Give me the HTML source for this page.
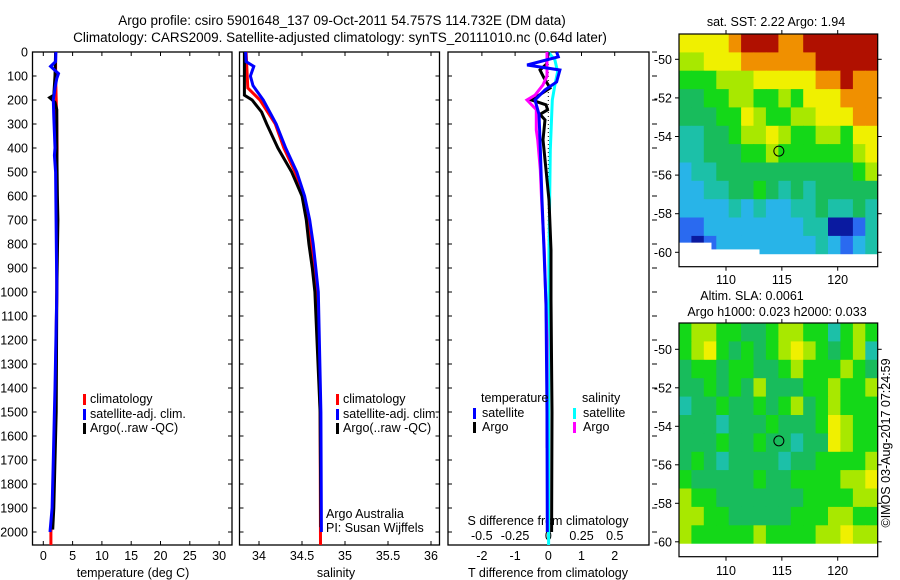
<!DOCTYPE html>
<html><head><meta charset="utf-8">
<style>
body{margin:0;background:#fff;}
svg{display:block;font-family:"Liberation Sans",sans-serif;font-size:12.5px;}
</style></head>
<body>
<svg id="fig" width="900" height="580" viewBox="0 0 900 580" xmlns="http://www.w3.org/2000/svg">
<rect width="900" height="580" fill="#fff"/>
<text x="342" y="25" text-anchor="middle" font-size="13.5">Argo profile: csiro 5901648_137 09-Oct-2011 54.757S 114.732E (DM data)</text>
<text x="340" y="42" text-anchor="middle" font-size="13.5">Climatology: CARS2009. Satellite-adjusted climatology: synTS_20111010.nc (0.64d later)</text>
<g id="g1"></g>
<g id="g2"></g>
<g id="g3"></g>
<g id="m1"></g>
<g id="m2"></g>
<text transform="translate(890,443) rotate(-90)" text-anchor="middle" font-size="12.5">©IMOS 03-Aug-2017 07:24:59</text>
</svg>
<script>
// ---------- data ----------
const depthTicks=[0,100,200,300,400,500,600,700,800,900,1000,1100,1200,1300,1400,1500,1600,1700,1800,1900,2000];
const tempTicks=[0,5,10,15,20,25,30];
const salTicks=[34,34.5,35,35.5,36];
const salTickLabels=["34","34.5","35","35.5","36"];
const dTTicks=[-2,-1,0,1,2];
const dSTicks=[-0.5,-0.25,0,0.25,0.5];
const dSTickLabels=["-0.5","-0.25","0","0.25","0.5"];

const tClimDepth=[0,100,200,300,400,500,1000,1500,1900,2000,2054];
const tClimVal=[2.1,2.1,2.2,2.3,2.35,2.3,2.3,2.0,1.6,1.3,1.3];
const tArgoDepth=[0,100,180,190,210,240,400,600,700,1000,1500,1900,1990];
const tArgoVal=[2.1,2.0,1.8,1.1,2.0,2.3,2.3,2.4,2.5,2.3,2.2,1.8,1.6];
const tSatDepth=[0,40,60,90,110,150,200,270,400,430,500,1000,1400,1500,1700,1900,2000];
const tSatVal=[2.15,2.1,1.25,2.6,2.3,2.0,1.7,1.8,2.0,1.9,2.1,2.3,2.0,1.9,1.7,1.5,1.15];

const sClimDepth=[0,150,200,300,400,500,600,700,1000,1500,2054];
const sClimVal=[33.85,33.87,34.01,34.19,34.29,34.42,34.52,34.57,34.68,34.71,34.715];
const sArgoDepth=[0,180,200,250,300,400,500,600,700,800,900,1000,1500,1980];
const sArgoVal=[33.83,33.83,33.92,34.03,34.09,34.22,34.38,34.5,34.55,34.58,34.62,34.65,34.71,34.72];
const sSatDepth=[0,40,60,100,140,200,300,400,500,600,700,800,900,1000,1500,2000];
const sSatVal=[33.845,33.85,33.94,33.9,33.93,34.05,34.2,34.31,34.44,34.53,34.59,34.63,34.66,34.69,34.72,34.725];

const dTSatDepth=[0,20,54,75,125,158,200,260,366,617,825,1050,1500,2000];
const dTSatVal=[0.25,0.3,-0.64,0.35,0.25,-0.1,-0.4,-0.28,-0.25,-0.19,-0.13,-0.07,-0.04,-0.03];
const dTArgoDepth=[0,50,75,108,150,200,220,241,260,283,366,490,617,825,1033,1500,2000];
const dTArgoVal=[0,-0.05,-0.25,-0.13,0.05,-0.5,-0.07,-0.02,-0.25,-0.1,-0.16,-0.07,0.02,0.08,0.08,0.11,0.1];
const dSArgoDepth=[0,100,137,180,200,240,325,366,490,617,825,1200,1650];
const dSArgoVal=[-0.01,-0.01,-0.04,-0.1,-0.16,-0.09,-0.09,-0.08,-0.06,-0.05,-0.03,-0.01,-0.01];
const dSSatDepth=[0,33,83,137,200,408,825,1500,2054];
const dSSatVal=[0,0.05,0.07,0.05,0.03,0.015,0.005,0.002,0.002];

const mapLonTicks=[110,115,120];
const mapLatTicks=[-50,-52,-54,-56,-58,-60];
const palette=["#0a1aa0","#2a6af0","#28b4e8","#1cc0a8","#18bc5c","#14d818","#a8e800","#f0f000","#f09000","#b01000"];
const sstGrid=[
"7777899988999999","6677788888899999","5556667777788988","4455665565777888",
"4445576556677788","3344566765566577","3344455655555567","2334444444444456",
"2233445434344444","2222323223343343","1122222222330013","1012222222232123"];
const slaGrid=[
"5665544566553565","5675454567654563","4554554456555654","4454546444556556",
"3445445456456555","4443444544457655","4445445443447655","4543444434455556",
"5444445445555667","6554444444555566","6655444445556655","6555556555566766"];
const argoLon=114.732, argoLat=-54.757;

// ---------- helpers ----------
const NS="http://www.w3.org/2000/svg";
function mk(parent,tag,attrs){const e=document.createElementNS(NS,tag);for(const k in attrs)e.setAttribute(k,attrs[k]);parent.appendChild(e);return e;}
const TOP=52,BOT=545;
const yD=d=>TOP+d*0.24;

function panelFrame(g,x0,x1){
  const r=mk(g,'rect',{x:x0,y:TOP,width:x1-x0,height:BOT-TOP,fill:'none',stroke:'#000','stroke-width':1.3});
  
  
}
function poly(g,depths,vals,xf,color,name,w){
  const pts=depths.map((d,i)=>xf(vals[i]).toFixed(1)+','+yD(d).toFixed(1)).join(' ');
  const p=mk(g,'polyline',{points:pts,fill:'none',stroke:color,'stroke-width':w||3,'stroke-linejoin':'miter'});
  
  
}
function txt(g,x,y,s,anchor,name){
  const t=mk(g,'text',{x:x,y:y,'text-anchor':anchor||'start'});t.textContent=s;
  
  
  return t;
}
function depthAxis(g,x0,x1,labels,rightOut){
  depthTicks.forEach(d=>{
    mk(g,'line',{x1:x0,x2:x0+4,y1:yD(d),y2:yD(d),stroke:'#000'});
    if(rightOut) mk(g,'line',{x1:x1+3,x2:x1+8,y1:yD(d),y2:yD(d),stroke:'#000'});
    else mk(g,'line',{x1:x1-4,x2:x1,y1:yD(d),y2:yD(d),stroke:'#000'});
    if(labels) txt(g,28,yD(d)+4.5,String(d),'end','depth-tick-label');
  });
}
function xAxis(g,ticks,labels,xf,ly,showTicks){
  ticks.forEach((v,i)=>{
    const x=xf(v);
    if(showTicks){mk(g,'line',{x1:x,x2:x,y1:TOP,y2:TOP+4,stroke:'#000'});mk(g,'line',{x1:x,x2:x,y1:BOT-4,y2:BOT,stroke:'#000'});}
    txt(g,x,ly,labels[i],'middle','x-tick-label');
  });
}
function legendBar(g,x,y,color){mk(g,'rect',{x:x,y:y-9,width:3,height:11,fill:color});}

// ---------- panel 1 ----------
const g1=document.getElementById('g1');
const xT=t=>43.3+t*5.86;
panelFrame(g1,32.5,232);
depthAxis(g1,32.5,232,true,false);
xAxis(g1,tempTicks,tempTicks.map(String),xT,560,true);
txt(g1,133,577,'temperature (deg C)','middle','x-axis-title');
poly(g1,tClimDepth,tClimVal,xT,'#ff0000','temp-climatology-line');
poly(g1,tArgoDepth,tArgoVal,xT,'#000000','temp-argo-line');
poly(g1,tSatDepth,tSatVal,xT,'#0000ff','temp-satellite-line');
legendBar(g1,83,403,'#f00');legendBar(g1,83,418,'#00f');legendBar(g1,83,432,'#000');
txt(g1,90,403,'climatology','start','legend-climatology');
txt(g1,90,418,'satellite-adj. clim.','start','legend-satellite-adj');
txt(g1,90,432,'Argo(..raw -QC)','start','legend-argo');

// ---------- panel 2 ----------
const g2=document.getElementById('g2');
const xS=s=>259+(s-34)*86;
panelFrame(g2,239.5,439.5);
depthAxis(g2,239.5,439.5,false,false);
xAxis(g2,salTicks,salTickLabels,xS,560,true);
txt(g2,336,577,'salinity','middle','x-axis-title');
poly(g2,sClimDepth,sClimVal,xS,'#ff0000','sal-climatology-line');
poly(g2,sArgoDepth,sArgoVal,xS,'#000000','sal-argo-line');
poly(g2,sSatDepth,sSatVal,xS,'#0000ff','sal-satellite-line');
legendBar(g2,336,403,'#f00');legendBar(g2,336,418,'#00f');legendBar(g2,336,432,'#000');
txt(g2,343,403,'climatology','start','legend-climatology');
txt(g2,343,418,'satellite-adj. clim.','start','legend-satellite-adj');
txt(g2,343,432,'Argo(..raw -QC)','start','legend-argo');
txt(g2,326,518,'Argo Australia','start','credit-argo-australia');
txt(g2,326,532,'PI: Susan Wijffels','start','credit-pi');

// ---------- panel 3 ----------
const g3=document.getElementById('g3');
const xdT=v=>548.3+v*33.2, xdS=v=>548.3+v*133;
panelFrame(g3,448,649);
depthAxis(g3,448,649,false,true);
dTTicks.forEach(v=>{mk(g3,'line',{x1:xdT(v),x2:xdT(v),y1:TOP,y2:TOP+4,stroke:'#000'});});
xAxis(g3,dTTicks,dTTicks.map(String),xdT,560,false);
xAxis(g3,dSTicks,dSTickLabels,xdS,540,false);
txt(g3,548,525,'S difference from climatology','middle','s-axis-title');
txt(g3,548,577,'T difference from climatology','middle','t-axis-title');
mk(g3,'line',{x1:xdT(0),x2:xdT(0),y1:TOP,y2:300,stroke:'#000','stroke-dasharray':'1,3'});
poly(g3,dSSatDepth,dSSatVal,xdS,'#00ffff','sal-diff-satellite-line');
poly(g3,dTArgoDepth,dTArgoVal,xdT,'#000000','temp-diff-argo-line');
poly(g3,dSArgoDepth,dSArgoVal,xdS,'#ff00ff','sal-diff-argo-line');
poly(g3,dTSatDepth,dTSatVal,xdT,'#0000ff','temp-diff-satellite-line');
txt(g3,481,402,'temperature','start','legend-temperature-heading');
legendBar(g3,473,417,'#00f');legendBar(g3,473,431,'#000');
txt(g3,482,417,'satellite','start','legend-temp-satellite');
txt(g3,482,431,'Argo','start','legend-temp-argo');
txt(g3,582,402,'salinity','start','legend-salinity-heading');
legendBar(g3,573,417,'#0ff');legendBar(g3,573,431,'#f0f');
txt(g3,583,417,'satellite','start','legend-sal-satellite');
txt(g3,583,431,'Argo','start','legend-sal-argo');

// ---------- maps ----------
function drawMap(g,grid,fx0,fx1,fy0,fy1,yLat50,pxLat,lonLabelY,clipRows,titles){
  const lonX=l=>726+(l-110)*11.17;
  const latY=l=>yLat50+(-50-l)*pxLat;
  const lon0=110-(726-fx0)/11.17,lon1=110+(fx1-726)/11.17;
  const latTop=-50+(yLat50-fy0)/pxLat,latBot=-60.1;
  const nr=grid.length,nc=grid[0].length;
  const dLon=(lon1-lon0)/nc,dLat=(latTop-latBot)/nr;
  for(let r=0;r<nr;r++)for(let c=0;c<nc;c++){
    const la=latTop-r*dLat, lo=lon0+c*dLon;
    const x=lonX(lo),y=latY(la),w=Math.min(lonX(lo+dLon),fx1)-x+(c<nc-1?0.6:0),h=latY(la-dLat)-y+0.6;
    const cell=mk(g,'rect',{x:x.toFixed(1),y:y.toFixed(1),width:w.toFixed(1),height:h.toFixed(1),fill:palette[+grid[r][c]]});
    
    
  }
  if(clipRows){clipRows.forEach(b=>{mk(g,'rect',{x:lonX(lon0),y:latY(b[1]),width:lonX(b[0])-lonX(lon0),height:latY(latBot)-latY(b[1])+1,fill:'#fff'});});}
  mk(g,'rect',{x:fx0,y:latY(latBot),width:fx1-fx0,height:fy1-latY(latBot),fill:'#fff'});
  const f=mk(g,'rect',{x:fx0,y:fy0,width:fx1-fx0,height:fy1-fy0,fill:'none',stroke:'#000','stroke-width':1.2});
  
  
  mapLonTicks.forEach(l=>{const x=lonX(l);mk(g,'line',{x1:x,x2:x,y1:fy0-4,y2:fy0,stroke:'#000'});mk(g,'line',{x1:x,x2:x,y1:fy1,y2:fy1+4,stroke:'#000'});txt(g,x,lonLabelY,String(l),'middle','lon-tick-label');});
  mapLatTicks.forEach(l=>{const y=latY(l);mk(g,'line',{x1:fx0-4,x2:fx0,y1:y,y2:y,stroke:'#000'});mk(g,'line',{x1:fx1,x2:fx1+4,y1:y,y2:y,stroke:'#000'});txt(g,672,y+4.5,String(l),'end','lat-tick-label');});
  const mk1=mk(g,'circle',{cx:lonX(argoLon),cy:latY(argoLat),r:5,fill:'none',stroke:'#000','stroke-width':1});
  
  
  titles.forEach(t=>txt(g,t[0],t[1],t[2],'middle','map-title'));
}
drawMap(document.getElementById('m1'),sstGrid,679,877.7,34,266.7,59.3,19.3,284,[[108.7,-59.5],[113,-59.85]],[[776,26,'sat. SST: 2.22 Argo: 1.94']]);
drawMap(document.getElementById('m2'),slaGrid,679,877.7,323,556.7,349.3,19.25,575,null,[[752,300,'Altim. SLA: 0.0061'],[777,316,'Argo h1000: 0.023 h2000: 0.033']]);
</script>
</body></html>
